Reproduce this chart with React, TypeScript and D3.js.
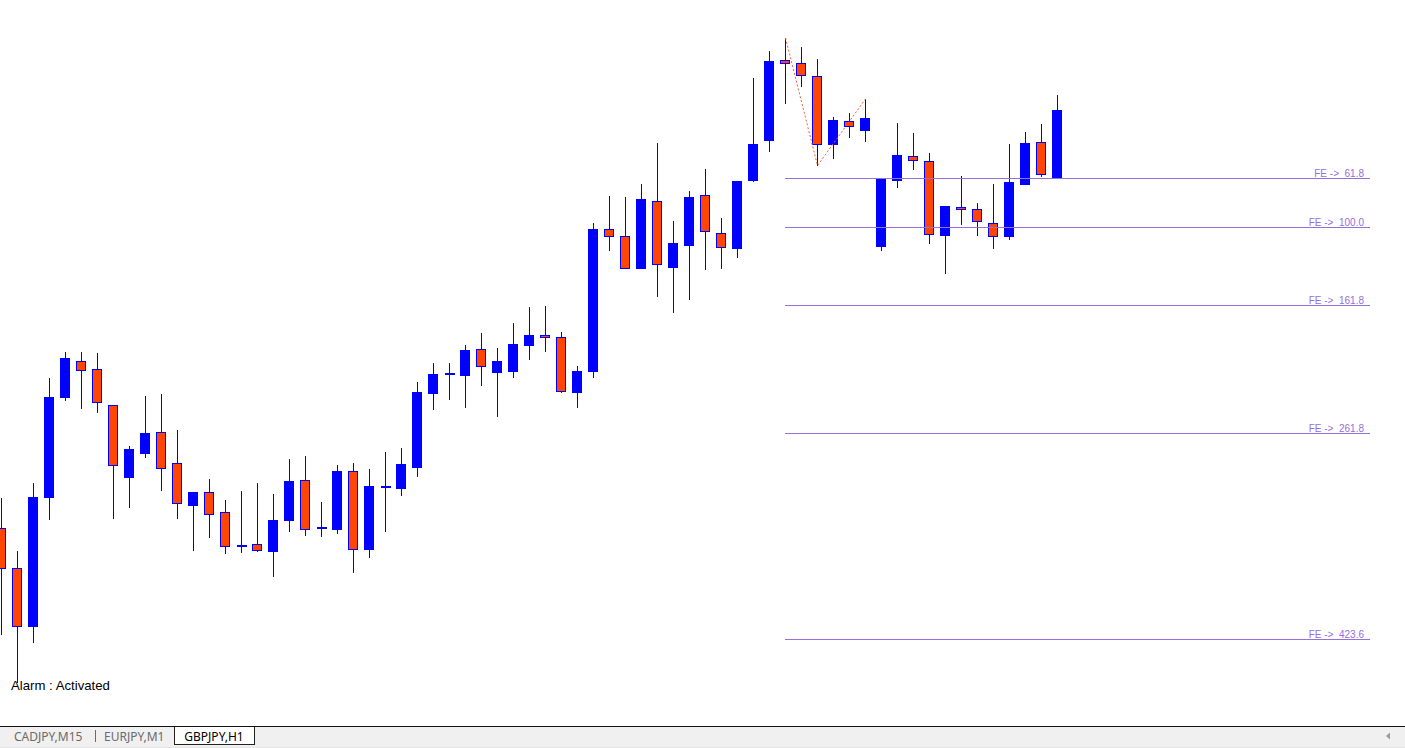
import React from "react";
import * as d3 from "d3";

// GBPJPY H1 candles (prices)
const openP = [144.72,144.32,143.74,145.03,146.03,146.39,146.31,145.95,145.23,145.47,145.68,145.37,144.95,145.08,144.88,144.54,144.56,144.49,144.80,145.20,144.71,144.71,145.29,144.51,145.12,145.12,145.33,146.07,146.25,146.25,146.51,146.28,146.29,146.55,146.65,146.63,146.08,146.29,147.71,147.64,147.32,147.99,147.33,147.55,148.05,147.67,147.52,148.20,148.60,149.40,149.37,149.24,148.56,148.79,148.70,147.54,148.20,148.44,148.39,147.65,147.93,147.91,147.77,147.64,148.16,148.58,148.22];
const highP = [145.02,144.49,145.17,146.22,146.48,146.48,146.47,145.95,145.54,146.04,146.06,145.70,145.08,145.21,145.00,145.09,145.17,145.06,145.41,145.44,144.98,145.35,145.37,145.31,145.48,145.52,146.18,146.37,146.37,146.55,146.67,146.52,146.77,146.93,146.94,146.68,146.34,147.77,148.04,148.03,148.16,148.57,147.79,148.09,148.31,147.82,148.19,149.22,149.49,149.62,149.53,149.41,148.83,148.87,149.01,148.22,148.77,148.67,148.47,147.94,148.24,147.97,148.16,148.56,148.68,148.76,149.05];
const lowP = [143.65,143.17,143.57,144.80,145.99,145.91,145.87,144.81,144.92,145.42,145.09,144.81,144.49,144.62,144.46,144.47,144.48,144.23,144.68,144.64,144.63,144.66,144.27,144.42,144.68,145.04,145.23,145.90,146.00,145.92,146.14,145.83,146.22,146.40,146.48,146.07,145.92,146.22,147.49,147.32,147.32,147.03,146.87,147.00,147.30,147.31,147.42,148.18,148.48,148.96,149.13,148.3445,148.41,148.62,148.58,147.49,148.12,148.30,147.56,147.26,147.75,147.64,147.51,147.60,148.16,148.23,148.22];
const closeP = [144.32,143.74,145.03,146.03,146.42,146.30,145.98,145.35,145.51,145.67,145.32,144.97,145.08,144.86,144.54,144.54,144.50,144.80,145.19,144.71,144.72,145.29,144.51,145.14,145.13,145.36,146.08,146.26,146.26,146.50,146.34,146.39,146.56,146.65,146.63,146.09,146.29,147.71,147.64,147.32,148.01,147.36,147.57,148.03,147.69,147.53,148.19,148.56,149.39,149.37,149.25,148.56,148.80,148.74,148.82,148.22,148.45,148.40,147.66,147.94,147.91,147.79,147.64,148.18,148.57,148.26,148.90];

// Fibonacci expansion anchors (candle indices: A high, B low, C high)
const feAnchors = [49, 51, 54];
const feRatios = [61.8, 100.0, 161.8, 261.8, 423.6];

const tabLabels = ["CADJPY,M15", "EURJPY,M1", "GBPJPY,H1"];
const alarmText = "Alarm : Activated";

const W = 1405;
const H = 748;
const BULL = "#0000FF";
const WICK = "#0000E0";
const BEAR = "#FF4500";
const FE_COLOR = "#9370DB";

export default function App() {
  const n = openP.length;
  const xScale = d3.scaleLinear().domain([0, n - 1]).range([1, 1057]);
  const yScale = d3.scaleLinear().domain([150, 143]).range([0, 700]);

  const [ia, ib, ic] = feAnchors;
  const A = highP[ia];
  const B = lowP[ib];
  const C = highP[ic];
  const feX1 = Math.round(xScale(ia));
  const feX2 = 1370;

  const zig = d3
    .line<[number, number]>()
    .x((d) => d[0])
    .y((d) => d[1]);
  const zigPts: [number, number][] = [
    [xScale(ia) + 0.5, yScale(A)],
    [xScale(ib) + 0.5, yScale(B)],
    [xScale(ic) + 0.5, yScale(C)],
  ];

  return (
    <div style={{ position: "fixed", left: 0, top: 0, width: W, height: H, background: "#fff" }}>
      <svg width={W} height={H} style={{ display: "block" }}>
        <rect x={0} y={0} width={W} height={H} fill="#ffffff" />
        {/* candles */}
        {openP.map((o, i) => {
          const c = closeP[i];
          const cx = Math.round(xScale(i));
          const yH = Math.round(yScale(highP[i]));
          const yL = Math.round(yScale(lowP[i]));
          const top = Math.round(yScale(Math.max(o, c)));
          const bot = Math.round(yScale(Math.min(o, c)));
          const bull = c >= o;
          const doji = bot - top < 1.5;
          return (
            <g key={i} shapeRendering="crispEdges">
              <line x1={cx + 0.5} x2={cx + 0.5} y1={yH} y2={yL} stroke={WICK} strokeWidth={1} />
              {doji ? (
                <rect x={cx - 4} y={top - 1} width={10} height={2} fill={BULL} />
              ) : (
                <rect
                  x={cx - 4.5}
                  y={top + 0.5}
                  width={9}
                  height={bot - top}
                  fill={bull ? BULL : BEAR}
                  stroke={BULL}
                  strokeWidth={1}
                />
              )}
            </g>
          );
        })}
        {/* zigzag dashed */}
        <path d={zig(zigPts) || ""} fill="none" stroke="#FF5a2a" strokeWidth={1} strokeDasharray="2,2" />
        {/* FE levels */}
        {feRatios.map((r) => {
          const v = C - (r / 100) * (A - B);
          const y = Math.round(yScale(v)) + 0.5;
          return (
            <g key={r}>
              <line x1={feX1} x2={feX2} y1={y} y2={y} stroke={FE_COLOR} strokeWidth={1} shapeRendering="crispEdges" />
              <text
                x={1364}
                y={y - 2}
                textAnchor="end"
                fill={FE_COLOR}
                fontFamily="'Liberation Sans', Arial, sans-serif"
                fontSize={10}
                style={{ whiteSpace: "pre" }}
              >
                {"FE ->  " + r.toFixed(1)}
              </text>
            </g>
          );
        })}
        {/* alarm text */}
        <text x={11} y={690} fontFamily="'Liberation Sans', Arial, sans-serif" fontSize={13.2} fill="#000">
          {alarmText}
        </text>
        {/* tab bar */}
        <rect x={0} y={726} width={W} height={22} fill="#F0F0F0" />
        <line x1={0} x2={W} y1={747.5} y2={747.5} stroke="#E4E4E4" />
        <rect x={174.5} y={726} width={80} height={18.5} fill="#ffffff" stroke="#222" strokeWidth={1} shapeRendering="crispEdges" />
        <line x1={0} x2={W} y1={726.5} y2={726.5} stroke="#111" strokeWidth={1} shapeRendering="crispEdges" />
        <text x={14} y={741} fontFamily="'Noto Sans', 'Open Sans', sans-serif" fontSize={12} fill="#6b6b6b">
          {tabLabels[0]}
        </text>
        <line x1={95.5} x2={95.5} y1={730} y2={742} stroke="#6b6b6b" strokeWidth={1} />
        <text x={104} y={741} fontFamily="'Noto Sans', 'Open Sans', sans-serif" fontSize={12} fill="#6b6b6b">
          {tabLabels[1]}
        </text>
        <text x={214} y={741} textAnchor="middle" fontFamily="'Noto Sans', 'Open Sans', sans-serif" fontSize={12} fill="#000">
          {tabLabels[2]}
        </text>
        <path d="M1386,736 L1390,732.5 L1390,739.5 Z" fill="#9a9a9a" />
      </svg>
    </div>
  );
}
